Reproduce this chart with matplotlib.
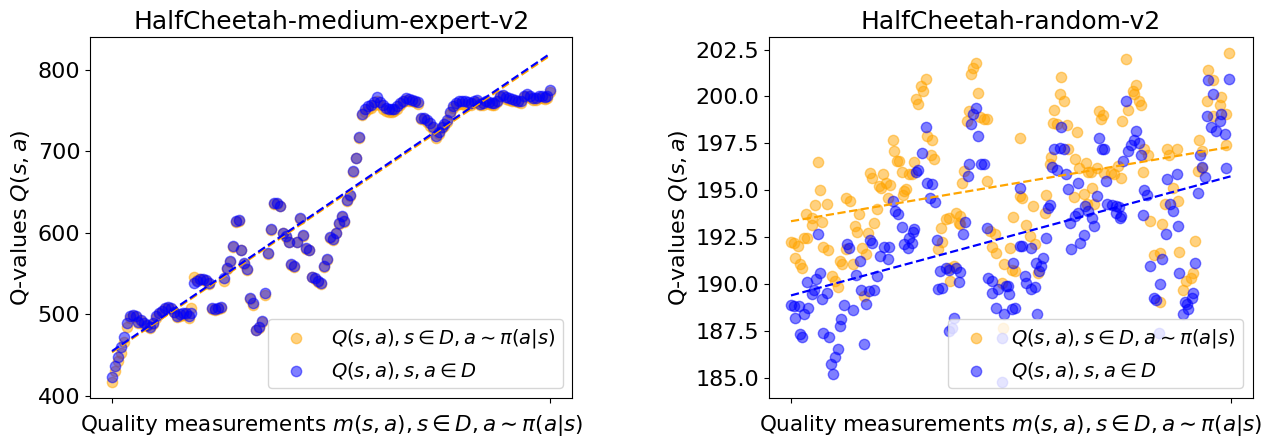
import numpy as np
import matplotlib
matplotlib.use("Agg")
import matplotlib.pyplot as plt

# HalfCheetah-medium-expert-v2 : one value per measurement index
me_pi = [417, 430, 442, 452, 466, 484, 495, 497, 496, 489,
         491, 487, 485, 483, 488, 495, 500, 503, 506, 508,
         506, 502, 496, 498, 499, 500, 495, 507, 545, 542,
         543, 542, 541, 537, 506, 505, 506, 508, 541, 555,
         564, 582, 613, 614, 578, 562, 554, 518, 511, 480,
         483, 490, 523, 574, 603, 635, 635, 632, 599, 595,
         588, 560, 558, 588, 617, 596, 580, 578, 545, 543,
         539, 537, 558, 566, 593, 591, 599, 611, 619, 613,
         639, 645, 674, 691, 716, 744, 748, 752, 753, 757,
         762, 756, 752, 749, 748, 748, 749, 752, 757, 760,
         763, 762, 761, 760, 758, 739, 739, 736, 731, 727,
         716, 721, 728, 731, 736, 746, 753, 757, 758, 758,
         757, 757, 756, 759, 760, 756, 757, 759, 758, 757,
         757, 760, 766, 767, 764, 763, 762, 761, 760, 759,
         766, 768, 765, 763, 763, 765, 765, 764, 765, 773]
me_data = [423, 436, 447, 460, 472, 489, 497, 499, 497, 490,
           493, 489, 486, 484, 489, 497, 501, 504, 507, 509,
           507, 503, 498, 500, 501, 501, 497, 501, 538, 541,
           543, 543, 542, 538, 507, 506, 507, 509, 544, 557,
           565, 583, 614, 615, 579, 563, 555, 520, 513, 481,
           484, 492, 526, 575, 604, 636, 636, 633, 600, 596,
           589, 561, 559, 589, 618, 597, 581, 579, 546, 544,
           540, 538, 559, 567, 594, 592, 600, 612, 620, 614,
           640, 646, 675, 692, 717, 746, 751, 755, 757, 760,
           766, 760, 756, 753, 752, 751, 752, 755, 759, 762,
           765, 764, 763, 762, 760, 741, 741, 738, 734, 730,
           718, 723, 730, 733, 738, 748, 755, 759, 761, 761,
           761, 760, 759, 762, 763, 758, 759, 761, 760, 759,
           759, 762, 768, 769, 766, 765, 764, 763, 762, 761,
           768, 770, 767, 765, 765, 767, 767, 766, 767, 775]

# HalfCheetah-random-v2 : measurement index and value for each point
rnd_pi_x = [0, 1.5, 1.9, 3.0, 3.9, 4.9, 5.7, 6.9, 7.2, 9.4,
            9.4, 10.9, 12.4, 13.2, 13.9, 14.7, 16.1, 16.9, 18.4, 19.9,
            21.4, 22.1, 22.9, 24.8, 25.1, 26.9, 28.1, 28.9, 29.9, 30.9,
            32.3, 32.9, 33.8, 34.8, 35.6, 36.8, 37.8, 38.9, 39.8, 40.8,
            41.6, 43.1, 43.8, 44.9, 46.0, 46.8, 48.0, 49.0, 50.2, 50.8,
            51.3, 52.0, 53.5, 54.7, 55.8, 56.5, 57.7, 58.8, 59.8, 61.0,
            61.7, 63.2, 63.7, 64.7, 66.7, 67.7, 68.5, 70.0, 71.5, 71.5,
            72.2, 73.7, 74.5, 76.0, 76.7, 76.7, 77.4, 78.2, 79.7, 80.4,
            81.6, 82.2, 83.7, 84.6, 85.7, 87.2, 88.7, 88.7, 90.2, 90.9,
            92.4, 92.8, 95.4, 95.8, 96.6, 99.1, 99.9, 100.6, 101.4, 103.6,
            103.6, 104.7, 106.3, 108.1, 109.6, 110.6, 111.8, 114.8, 115.6, 117.1,
            117.8, 118.6, 119.3, 120.5, 121.6, 122.3, 123.5, 125.0, 125.3, 128.3,
            128.6, 129.5, 130.5, 132.5, 133.5, 134.0, 134.3, 135.8, 136.5, 137.2,
            138.4, 139.5, 140.5, 141.4, 141.7, 144.7, 146.2, 148.0, 149.5, 150.0,
            151.5, 152.5, 154.9, 155.5, 156.4, 157.4, 158.5, 159.4, 159.7, 161.5,
            162.7, 164.2, 166.9, 166.9, 167.9, 169.4, 170.1, 171.3, 173.1, 174.6,
            175.4, 175.8, 177.6, 178.8, 180.9, 182.1, 182.8, 184.3, 184.8, 186.3,
            186.3, 188.4, 188.8, 191.1, 191.1, 194.1, 194.8, 197.1, 197.1, 198.2]
rnd_pi_y = [192.25, 192.16, 191.40, 192.02, 191.04, 190.83, 192.46, 193.74, 192.43, 193.53,
            193.17, 194.19, 196.51, 194.99, 193.32, 191.97, 194.24, 191.79, 190.42, 190.15,
            189.83, 191.22, 191.08, 191.89, 194.59, 194.42, 191.08, 193.08, 192.78, 193.72,
            191.93, 189.35, 191.61, 192.73, 195.93, 195.66, 193.26, 193.97, 195.22, 195.13,
            195.84, 195.39, 194.56, 195.27, 197.70, 197.08, 196.58, 196.55, 195.96, 194.74,
            194.95, 195.04, 195.84, 195.87, 196.51, 199.84, 199.57, 200.55, 200.31, 200.95,
            197.88, 196.90, 197.70, 196.64, 191.89, 193.00, 192.25, 193.44, 193.53, 190.86,
            190.15, 190.95, 193.80, 193.26, 193.65, 193.21, 195.39, 196.02, 198.68, 199.21,
            201.17, 201.52, 201.79, 200.16, 198.89, 198.77, 198.77, 195.48, 192.82, 191.97,
            192.64, 191.66, 190.06, 187.67, 191.04, 191.93, 190.77, 193.56, 190.69, 197.79,
            194.68, 194.59, 193.17, 192.55, 194.15, 192.11, 190.60, 193.80, 194.74, 196.41,
            196.76, 198.59, 199.30, 198.54, 200.14, 201.03, 199.78, 198.50, 197.17, 194.63,
            196.64, 198.11, 196.16, 194.81, 196.46, 194.24, 195.98, 195.98, 195.13, 194.24,
            196.16, 199.21, 198.77, 199.00, 195.93, 195.93, 195.84, 196.28, 195.66, 198.68,
            202.02, 199.30, 200.28, 200.14, 200.60, 199.75, 199.53, 195.98, 197.22, 196.85,
            193.35, 191.54, 191.66, 189.05, 193.21, 194.24, 197.17, 196.90, 195.13, 197.17,
            194.42, 191.72, 189.66, 190.15, 190.33, 190.60, 192.29, 196.02, 197.70, 197.08,
            196.19, 199.75, 201.43, 200.90, 198.95, 199.53, 199.96, 199.04, 197.40, 202.29]
rnd_data_x = [0, 1.5, 1.9, 3.4, 3.9, 5.2, 6.1, 7.2, 7.9, 9.4,
              10.2, 11.2, 12.4, 13.2, 13.9, 14.7, 16.1, 17.2, 17.9, 18.8,
              19.9, 21.1, 22.1, 22.6, 23.9, 25.4, 26.2, 28.1, 29.3, 31.1,
              31.8, 32.9, 33.8, 35.1, 35.6, 36.8, 37.8, 38.9, 40.1, 42.3,
              43.8, 44.3, 46.0, 47.2, 48.3, 50.2, 51.3, 52.8, 53.5, 55.0,
              55.3, 55.8, 56.5, 57.7, 59.1, 61.0, 61.7, 62.8, 63.7, 65.0,
              66.2, 66.5, 67.3, 68.5, 70.0, 71.5, 71.5, 72.7, 73.7, 74.5,
              76.0, 76.7, 77.7, 78.8, 80.0, 80.7, 81.6, 82.2, 83.7, 84.6,
              86.1, 87.6, 88.7, 89.4, 90.9, 91.2, 92.7, 93.9, 95.4, 95.7,
              96.3, 97.2, 98.1, 98.7, 99.9, 100.6, 101.4, 103.6, 103.6, 104.7,
              105.9, 106.6, 108.8, 108.8, 110.6, 111.1, 111.5, 112.1, 113.0, 114.1,
              115.6, 116.3, 117.1, 118.1, 119.3, 120.5, 121.6, 122.3, 123.5, 124.5,
              125.6, 126.5, 126.8, 128.6, 129.8, 129.8, 131.0, 132.5, 133.1, 134.6,
              136.5, 137.2, 138.4, 139.5, 141.0, 141.7, 142.5, 143.2, 145.5, 147.0,
              147.0, 148.5, 148.9, 149.5, 150.4, 151.5, 152.5, 154.0, 155.2, 156.4,
              157.4, 158.5, 159.4, 159.7, 161.2, 162.7, 164.2, 165.4, 166.4, 167.2,
              167.9, 169.8, 170.4, 171.6, 173.1, 174.6, 175.4, 175.8, 177.6, 178.4,
              179.1, 179.9, 181.4, 182.1, 182.8, 184.3, 185.4, 186.3, 187.3, 188.4,
              188.8, 190.3, 191.1, 192.6, 194.1, 194.8, 196.3, 197.1, 198.2]
rnd_data_y = [188.87, 188.82, 188.20, 188.82, 187.31, 187.19, 188.38, 190.12, 188.73, 189.44,
              189.66, 190.24, 192.64, 190.60, 189.18, 187.40, 189.53, 187.17, 185.75, 185.21,
              186.10, 186.55, 187.75, 188.11, 188.86, 192.11, 191.93, 188.61, 190.47, 191.25,
              189.66, 186.78, 188.95, 189.62, 192.32, 192.16, 189.66, 190.40, 191.49, 191.97,
              191.31, 191.97, 194.42, 193.88, 193.71, 193.03, 192.11, 191.93, 192.46, 192.20,
              192.78, 192.91, 195.96, 196.10, 196.96, 198.38, 195.39, 194.59, 195.34, 194.36,
              192.32, 189.71, 190.69, 189.76, 190.83, 190.72, 187.49, 187.67, 188.20, 190.83,
              190.12, 190.65, 192.68, 193.32, 195.75, 196.41, 198.54, 199.04, 199.39, 197.88,
              196.37, 196.41, 193.01, 190.33, 189.53, 190.15, 188.70, 189.71, 187.13, 184.79,
              188.38, 189.89, 189.89, 189.44, 188.64, 191.13, 188.73, 192.02, 195.13, 192.02,
              190.42, 190.06, 191.93, 189.71, 189.83, 191.13, 188.41, 190.69, 190.95, 191.40,
              192.46, 194.06, 194.20, 196.23, 197.17, 196.10, 197.26, 198.36, 197.22, 195.87,
              195.04, 193.26, 191.89, 193.62, 195.39, 193.80, 192.20, 192.60, 194.15, 193.88,
              193.53, 193.08, 194.68, 197.76, 197.22, 197.17, 195.48, 194.24, 194.20, 194.15,
              193.80, 194.10, 193.53, 193.62, 196.58, 199.75, 197.08, 197.40, 197.70, 198.15,
              197.53, 196.90, 193.67, 194.99, 194.74, 190.95, 189.23, 189.12, 187.40, 190.01,
              191.31, 192.68, 195.62, 194.24, 193.88, 195.87, 193.08, 190.60, 188.38, 189.05,
              188.95, 188.64, 189.23, 189.53, 191.13, 194.86, 196.87, 196.23, 195.70, 198.95,
              200.90, 198.36, 200.14, 198.18, 198.68, 199.04, 198.01, 196.19, 200.95]
rnd_n = 200

lab_pi = r'$Q(s,a), s\in D, a\sim\pi(a|s)$'
lab_data = r'$Q(s,a), s, a\in D$'
xlab = r'Quality measurements $m(s,a), s\in D, a\sim\pi(a|s)$'

fig = plt.figure(figsize=(12.69, 4.36), dpi=100)
ax1 = fig.add_axes([0.071, 0.087, 0.380, 0.828])
ax2 = fig.add_axes([0.606, 0.087, 0.381, 0.828])


def panel(ax, x1, y1, x2, y2, n, title):
    ax.scatter(x1, y1, s=55, color='orange', alpha=0.5, label=lab_pi)
    ax.scatter(x2, y2, s=55, color='blue', alpha=0.5, label=lab_data)
    xs = np.array([0, n - 1])
    k1 = np.polyfit(x1, y1, 1)
    k2 = np.polyfit(x2, y2, 1)
    ax.plot(xs, np.polyval(k1, xs), '--', color='orange', lw=1.6)
    ax.plot(xs, np.polyval(k2, xs), '--', color='blue', lw=1.6)
    ax.set_xticks([0, n - 1])
    ax.set_xticklabels(['', ''])
    ax.set_xlim(-0.05 * (n - 1), 1.05 * (n - 1))
    ax.set_title(title, fontsize=18)
    ax.set_xlabel(xlab, fontsize=15.5)
    ax.set_ylabel('Q-values $Q(s,a)$', fontsize=16)
    ax.tick_params(axis='y', labelsize=16)
    ax.legend(loc='lower right', fontsize=14)


me_x = np.arange(len(me_data))
panel(ax1, me_x, me_pi, me_x, me_data, len(me_data), 'HalfCheetah-medium-expert-v2')
panel(ax2, rnd_pi_x, rnd_pi_y, rnd_data_x, rnd_data_y, rnd_n, 'HalfCheetah-random-v2')
ax1.set_yticks([400, 500, 600, 700, 800])
ax2.set_yticks([185, 187.5, 190, 192.5, 195, 197.5, 200, 202.5])

fig.savefig('out.png', dpi=100)
